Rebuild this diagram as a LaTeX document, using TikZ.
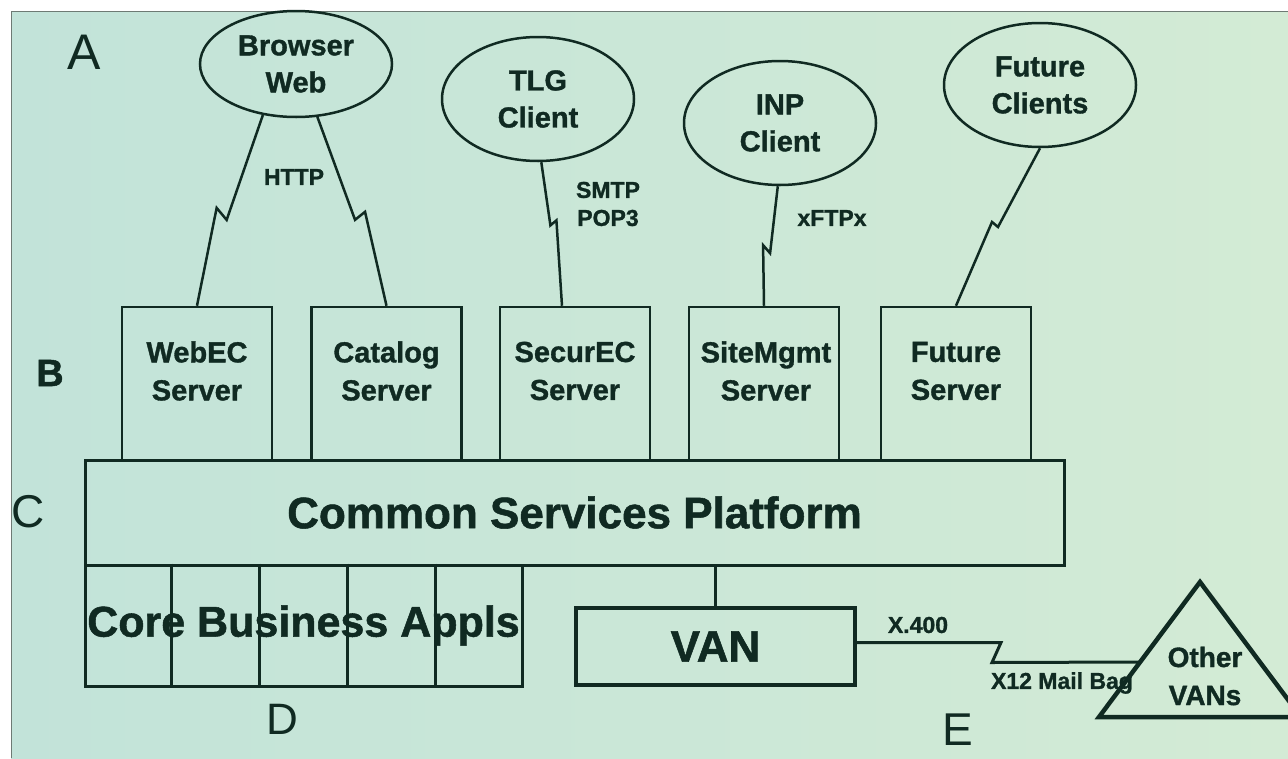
\documentclass[tikz,border=0pt]{standalone}
\usepackage{fontspec}
\setmainfont[BoldFeatures={FakeBold=1.2}]{Liberation Sans}
\usepackage{tikz}
\usetikzlibrary{calc,shapes.geometric}
\definecolor{colorink}{HTML}{102A22}
\definecolor{colorbgl}{HTML}{C2E3D9}
\definecolor{colorbgr}{HTML}{D3EBD5}
\definecolor{colorframe}{HTML}{6E7A74}
\tikzset{
  client/.style={ellipse, draw=colorink, line width=2.5pt, minimum width=192pt,
    minimum height=#1, inner sep=0pt, align=center, text=colorink,
    font=\bfseries\fontsize{29}{37}\selectfont},
  client/.default=124pt,
  server/.style={rectangle, draw=colorink, line width=2.5pt, minimum width=150pt,
    minimum height=153pt, inner sep=0pt},
  srvtext/.style={inner sep=0pt, align=center, text=colorink,
    font=\bfseries\fontsize{29}{38}\selectfont},
  layer/.style={rectangle, draw=colorink, line width=3pt, inner sep=0pt, text=colorink,
    font=\bfseries\fontsize{44}{48}\selectfont},
  proto/.style={inner sep=0pt, align=center, text=colorink,
    font=\bfseries\fontsize{23}{28}\selectfont},
  tier/.style={inner sep=0pt, text=colorink, font=\fontsize{46}{50}\selectfont},
  edgezig/.style n args={3}{colorink, line width=2.5pt, line join=miter,
    to path={-- ($(\tikztostart)!#1!(\tikztotarget)$) -- ++(#2,#3) -- (\tikztotarget)}},
  edgevan/.style={colorink, line width=3pt, line join=miter}
}

\begin{document}
\begin{tikzpicture}[x=1pt, y=-1pt]
\useasboundingbox (0,0) rectangle (1288,758);
\clip (0,0) rectangle (1288,758);
\fill[white] (0,0) rectangle (1288,758);
\fill[left color=colorbgl, right color=colorbgr] (11,11) rectangle (1288,758);
\draw[colorframe, line width=1pt] (11,758) -- (11,11) -- (1288,11);

\node[client=106pt] (browser) at (296,64) {Browser\\Web};
\node[client] (tlg) at (538,99) {TLG\\Client};
\node[client] (inp) at (780,123) {INP\\Client};
\node[client] (futcli) at (1040,85) {Future\\Clients};

\node[server] (webec) at (197,383.5) {};
\node[srvtext] (webecT) at (197,371) {WebEC\\Server};
\node[server] (catalog) at (386.5,383.5) {};
\node[srvtext] (catalogT) at (386.5,371) {Catalog\\Server};
\node[server] (securec) at (575,383.5) {};
\node[srvtext] (securecT) at (575,371) {SecurEC\\Server};
\node[server] (sitemgmt) at (764,383.5) {};
\node[srvtext] (sitemgmtT) at (766,371) {SiteMgmt\\Server};
\node[server] (futsrv) at (956,383.5) {};
\node[srvtext] (futsrvT) at (956,371) {Future\\Server};

\node[layer, minimum width=979pt, minimum height=105pt] (csp) at (574.5,512.5)
{Common Services Platform};

\node[layer, minimum width=437pt, minimum height=121pt,
  font=\bfseries\fontsize{43}{48}\selectfont] (core) at (303.5,625.5)
{Core Business Appls};
\draw[edgevan] ($(core.north west)!0.2!(core.north east)$) -- ($(core.south west)!0.2!(core.south east)$);
\draw[edgevan] ($(core.north west)!0.4!(core.north east)$) -- ($(core.south west)!0.4!(core.south east)$);
\draw[edgevan] ($(core.north west)!0.6!(core.north east)$) -- ($(core.south west)!0.6!(core.south east)$);
\draw[edgevan] ($(core.north west)!0.8!(core.north east)$) -- ($(core.south west)!0.8!(core.south east)$);

\node[layer, line width=4pt, minimum width=279pt, minimum height=77pt] (van) at (715.5,646.5)
{VAN};

\coordinate (apex) at (1200,582);
\coordinate (baseL) at (1099,717);
\coordinate (baseR) at (1301,717);
\draw[colorink, line width=4.5pt, line join=miter] (apex) -- (baseL) -- (baseR) -- cycle;
\node[srvtext, font=\bfseries\fontsize{28}{38}\selectfont] (others) at (1205,676) {Other\\VANs};
\coordinate (tri) at (1140,662);

\coordinate (securin) at ([xshift=-13pt]securec.north);
\draw[edgezig={0.55}{-10}{-12}] (browser.237) to (webec.north);
\draw[edgezig={0.545}{10}{-8}] (browser.292) to (catalog.north);
\draw[edgezig={0.44}{6}{-5}] (tlg.273) to (securin);
\draw[edgezig={0.56}{-7}{-8}] (inp.268) to (sitemgmt.north);
\draw[edgezig={0.5}{-6}{-5}] (futcli.270) to (futsrv.north);

\draw[edgevan] (van.north) -- (van.north |- csp.south);
\draw[edgevan] ([yshift=4pt]van.east) -- ++(144,0) -- ++(-9,20) -- (tri);

\node[proto] (http) at (294,177) {HTTP};
\node[proto] (smtp) at (608,204) {SMTP\\POP3};
\node[proto] (xftp) at (832,218) {xFTPx};
\node[proto] (x400) at (918,625) {X.400};
\node[proto] (mailbag) at (1062,683) {X12 Mail Bag};

\node[tier, font=\fontsize{50}{54}\selectfont] (tierA) at (84,52) {A};
\node[tier, font=\bfseries\fontsize{38}{42}\selectfont] (tierB) at (50,373) {B};
\node[tier] (tierC) at (28,512) {C};
\node[tier, font=\fontsize{44}{48}\selectfont] (tierD) at (282,719) {D};
\node[tier] (tierE) at (958,730) {E};
\end{tikzpicture}
\end{document}
